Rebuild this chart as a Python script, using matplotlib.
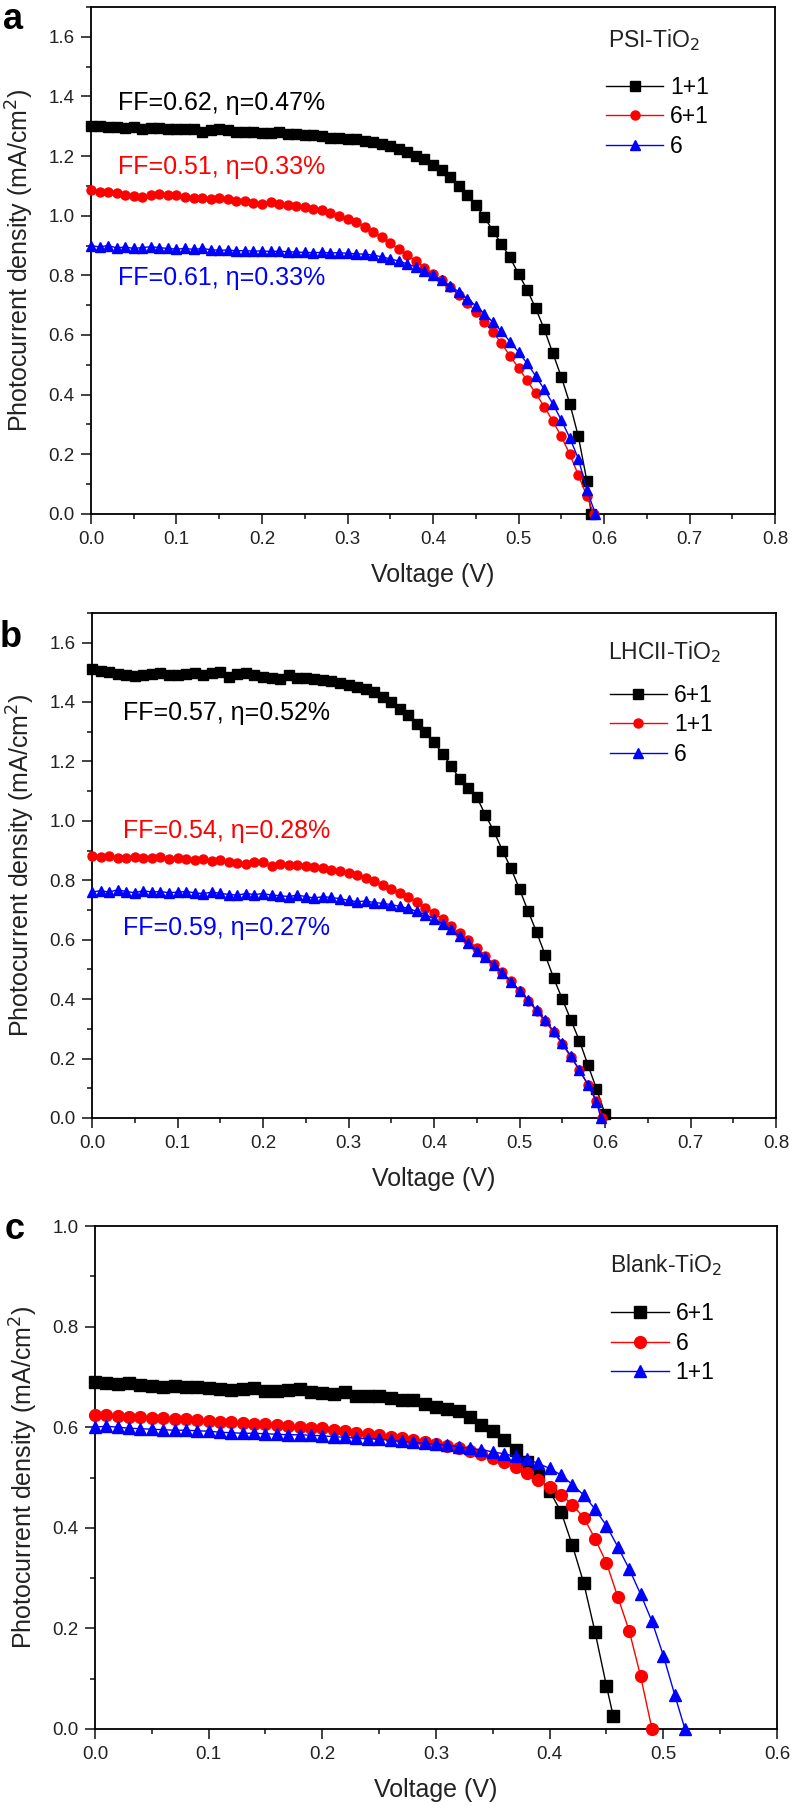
import matplotlib
matplotlib.use("Agg")
import matplotlib.pyplot as plt
from matplotlib.ticker import MultipleLocator, FormatStrFormatter

plt.rcParams['font.family'] = ['Liberation Sans', 'DejaVu Sans']

# voltage grid (V), 0.01 V steps as measured
V_GRID = [0.00, 0.01, 0.02, 0.03, 0.04, 0.05, 0.06, 0.07, 0.08, 0.09,
          0.10, 0.11, 0.12, 0.13, 0.14, 0.15, 0.16, 0.17, 0.18, 0.19,
          0.20, 0.21, 0.22, 0.23, 0.24, 0.25, 0.26, 0.27, 0.28, 0.29,
          0.30, 0.31, 0.32, 0.33, 0.34, 0.35, 0.36, 0.37, 0.38, 0.39,
          0.40, 0.41, 0.42, 0.43, 0.44, 0.45, 0.46, 0.47, 0.48, 0.49,
          0.50, 0.51, 0.52, 0.53, 0.54, 0.55, 0.56, 0.57, 0.58, 0.59,
          0.60]

# ---- panel a: PSI-TiO2 ----
a_11_v = V_GRID[:59] + [0.585]
a_11_j = [1.300, 1.302, 1.298, 1.297, 1.295, 1.296, 1.290, 1.293, 1.295, 1.291,
          1.289, 1.290, 1.292, 1.281, 1.286, 1.290, 1.288, 1.280, 1.282, 1.280,
          1.278, 1.276, 1.279, 1.274, 1.273, 1.272, 1.270, 1.266, 1.262, 1.260,
          1.258, 1.256, 1.250, 1.248, 1.240, 1.232, 1.222, 1.212, 1.200, 1.190,
          1.170, 1.152, 1.128, 1.100, 1.068, 1.035, 0.995, 0.950, 0.905, 0.860,
          0.805, 0.752, 0.690, 0.620, 0.540, 0.460, 0.370, 0.260, 0.110, 0.000]
a_61_v = V_GRID[:59] + [0.588]
a_61_j = [1.085, 1.080, 1.078, 1.075, 1.070, 1.065, 1.062, 1.068, 1.072, 1.070,
          1.068, 1.062, 1.058, 1.060, 1.055, 1.058, 1.056, 1.050, 1.048, 1.042,
          1.040, 1.045, 1.040, 1.036, 1.032, 1.030, 1.022, 1.018, 1.010, 1.000,
          0.990, 0.978, 0.962, 0.946, 0.928, 0.908, 0.888, 0.868, 0.848, 0.826,
          0.805, 0.783, 0.760, 0.735, 0.708, 0.678, 0.645, 0.610, 0.572, 0.530,
          0.490, 0.448, 0.405, 0.360, 0.312, 0.260, 0.200, 0.130, 0.060, 0.000]
a_6_v = V_GRID[:59] + [0.590]
a_6_j = [0.900, 0.895, 0.900, 0.892, 0.895, 0.890, 0.893, 0.896, 0.893, 0.890,
         0.888, 0.890, 0.887, 0.890, 0.886, 0.884, 0.885, 0.882, 0.883, 0.881,
         0.882, 0.880, 0.881, 0.879, 0.878, 0.877, 0.876, 0.877, 0.875, 0.876,
         0.874, 0.872, 0.871, 0.868, 0.862, 0.855, 0.848, 0.838, 0.828, 0.815,
         0.800, 0.783, 0.765, 0.745, 0.722, 0.698, 0.672, 0.643, 0.612, 0.578,
         0.543, 0.505, 0.463, 0.418, 0.370, 0.315, 0.255, 0.185, 0.080, 0.000]

# ---- panel b: LHCII-TiO2 ----
b_61_v = V_GRID[:61]
b_61_j = [1.510, 1.505, 1.500, 1.495, 1.490, 1.488, 1.492, 1.495, 1.497, 1.490,
          1.492, 1.495, 1.497, 1.490, 1.498, 1.500, 1.485, 1.495, 1.497, 1.490,
          1.485, 1.480, 1.478, 1.490, 1.480, 1.482, 1.478, 1.475, 1.472, 1.465,
          1.458, 1.450, 1.445, 1.435, 1.418, 1.400, 1.378, 1.355, 1.325, 1.298,
          1.265, 1.225, 1.185, 1.140, 1.110, 1.080, 1.020, 0.965, 0.900, 0.840,
          0.770, 0.696, 0.625, 0.548, 0.470, 0.400, 0.330, 0.260, 0.178, 0.098,
          0.013]
b_11_v = V_GRID[:60] + [0.597]
b_11_j = [0.880, 0.878, 0.880, 0.875, 0.876, 0.878, 0.874, 0.876, 0.877, 0.872,
          0.874, 0.870, 0.868, 0.870, 0.866, 0.868, 0.862, 0.858, 0.855, 0.860,
          0.862, 0.848, 0.855, 0.852, 0.850, 0.848, 0.844, 0.840, 0.835, 0.830,
          0.825, 0.818, 0.808, 0.798, 0.785, 0.772, 0.758, 0.743, 0.727, 0.708,
          0.690, 0.668, 0.645, 0.622, 0.598, 0.572, 0.545, 0.518, 0.490, 0.460,
          0.428, 0.395, 0.360, 0.325, 0.288, 0.248, 0.205, 0.160, 0.112, 0.058,
          0.000]
b_6_v = V_GRID[:60] + [0.595]
b_6_j = [0.760, 0.765, 0.760, 0.768, 0.762, 0.758, 0.765, 0.760, 0.762, 0.758,
         0.760, 0.762, 0.758, 0.755, 0.760, 0.756, 0.752, 0.750, 0.755, 0.752,
         0.755, 0.750, 0.748, 0.745, 0.750, 0.745, 0.740, 0.745, 0.742, 0.738,
         0.732, 0.728, 0.730, 0.725, 0.722, 0.718, 0.712, 0.705, 0.695, 0.684,
         0.670, 0.652, 0.635, 0.612, 0.588, 0.563, 0.540, 0.515, 0.488, 0.458,
         0.428, 0.397, 0.363, 0.328, 0.291, 0.252, 0.208, 0.162, 0.112, 0.055,
         0.000]

# ---- panel c: Blank-TiO2 ----
c_61_v = V_GRID[:46] + [0.456]
c_61_j = [0.690, 0.688, 0.686, 0.688, 0.684, 0.682, 0.680, 0.681, 0.679, 0.680,
          0.678, 0.675, 0.674, 0.676, 0.678, 0.672, 0.672, 0.674, 0.675, 0.670,
          0.668, 0.666, 0.670, 0.662, 0.662, 0.663, 0.658, 0.654, 0.655, 0.646,
          0.640, 0.637, 0.632, 0.620, 0.605, 0.592, 0.575, 0.555, 0.530, 0.505,
          0.473, 0.432, 0.365, 0.290, 0.192, 0.085, 0.025]
c_6_v = V_GRID[:50]
c_6_j = [0.625, 0.624, 0.622, 0.620, 0.621, 0.619, 0.618, 0.617, 0.616, 0.614,
         0.613, 0.611, 0.610, 0.609, 0.607, 0.606, 0.604, 0.602, 0.601, 0.599,
         0.598, 0.594, 0.592, 0.589, 0.587, 0.584, 0.581, 0.578, 0.575, 0.571,
         0.567, 0.563, 0.558, 0.553, 0.546, 0.539, 0.530, 0.520, 0.508, 0.495,
         0.482, 0.466, 0.446, 0.420, 0.378, 0.330, 0.262, 0.195, 0.105, 0.000]
c_11_v = V_GRID[:52] + [0.519]
c_11_j = [0.600, 0.602, 0.600, 0.598, 0.597, 0.596, 0.595, 0.594, 0.594, 0.593,
          0.592, 0.590, 0.589, 0.588, 0.588, 0.587, 0.586, 0.585, 0.585, 0.584,
          0.583, 0.581, 0.580, 0.578, 0.577, 0.576, 0.574, 0.572, 0.570, 0.568,
          0.566, 0.564, 0.561, 0.558, 0.555, 0.551, 0.547, 0.542, 0.537, 0.528,
          0.518, 0.505, 0.486, 0.465, 0.437, 0.404, 0.362, 0.318, 0.268, 0.214,
          0.146, 0.068, 0.000]

a_labels = ["1+1", "6+1", "6"]
b_labels = ["6+1", "1+1", "6"]
c_labels = ["6+1", "6", "1+1"]

a_notes = ["FF=0.62, η=0.47%", "FF=0.51, η=0.33%", "FF=0.61, η=0.33%"]
a_note_y = [1.378, 1.163, 0.79]
b_notes = ["FF=0.57, η=0.52%", "FF=0.54, η=0.28%", "FF=0.59, η=0.27%"]
b_note_y = [1.363, 0.966, 0.64]

colors = ['black', '#ff0000', '#0000ff']
markers = ['s', 'o', '^']
TXT = '#222222'


def draw_panel(ax, series, labels, title, xmax, ymax, msize, title_xy, leg_xy):
    for (v, j), lab, col, mk in zip(series, labels, colors, markers):
        ax.plot(v, j, color=col, marker=mk, markersize=msize, lw=1.0,
                label=lab, clip_on=False, zorder=3)
    ax.set_xlim(0, xmax)
    ax.set_ylim(0, ymax)
    ax.xaxis.set_major_locator(MultipleLocator(0.1))
    ax.xaxis.set_minor_locator(MultipleLocator(0.05))
    ax.yaxis.set_major_locator(MultipleLocator(0.2))
    ax.yaxis.set_minor_locator(MultipleLocator(0.1))
    ax.xaxis.set_major_formatter(FormatStrFormatter('%.1f'))
    ax.yaxis.set_major_formatter(FormatStrFormatter('%.1f'))
    ax.tick_params(which='both', direction='out', top=False, right=False,
                   width=1.2, labelsize=13.5, colors=TXT)
    ax.tick_params(which='major', length=7, pad=5)
    ax.tick_params(which='minor', length=3.6)
    for s in ax.spines.values():
        s.set_linewidth(1.3)
    ax.set_xlabel("Voltage (V)", fontsize=18, labelpad=11, color=TXT)
    ax.set_ylabel("Photocurrent density (mA/cm$^2$)", fontsize=18,
                  labelpad=9, color=TXT)
    ax.text(title_xy[0], title_xy[1], title, transform=ax.transAxes,
            fontsize=16.5, color=TXT, va='center', ha='left')
    ax.legend(loc='center left', bbox_to_anchor=leg_xy,
              frameon=False, fontsize=16.5, handlelength=2.5,
              handletextpad=0.3, labelspacing=0.28,
              borderpad=0, borderaxespad=0)


fig = plt.figure(figsize=(7.94, 18.11), dpi=100)

ax_a = fig.add_axes([0.1146, 0.7162, 0.8615, 0.2800])
draw_panel(ax_a, [(a_11_v, a_11_j), (a_61_v, a_61_j), (a_6_v, a_6_j)],
           a_labels, "PSI-TiO$_2$", 0.8, 1.7, 6.5, (0.756, 0.935), (0.753, 0.783))
for txt, y, col in zip(a_notes, a_note_y, colors):
    ax_a.text(0.032, y, txt, color=col, fontsize=18, va='center')

ax_b = fig.add_axes([0.1159, 0.3827, 0.8615, 0.2789])
draw_panel(ax_b, [(b_61_v, b_61_j), (b_11_v, b_11_j), (b_6_v, b_6_j)],
           b_labels, "LHCII-TiO$_2$", 0.8, 1.7, 6.5, (0.754, 0.923), (0.757, 0.778))
for txt, y, col in zip(b_notes, b_note_y, colors):
    ax_b.text(0.036, y, txt, color=col, fontsize=18, va='center')

ax_c = fig.add_axes([0.1196, 0.0453, 0.8590, 0.2777])
draw_panel(ax_c, [(c_61_v, c_61_j), (c_6_v, c_6_j), (c_11_v, c_11_j)],
           c_labels, "Blank-TiO$_2$", 0.6, 1.0, 8.5, (0.755, 0.922), (0.757, 0.767))

fig.text(0.004, 1 - 29 / 1811, "a", fontsize=26, fontweight='bold', va='baseline')
fig.text(0.000, 1 - 647 / 1811, "b", fontsize=26, fontweight='bold', va='baseline')
fig.text(0.006, 1 - 1239 / 1811, "c", fontsize=26, fontweight='bold', va='baseline')

fig.savefig("out.png", dpi=100)
plt.close(fig)
